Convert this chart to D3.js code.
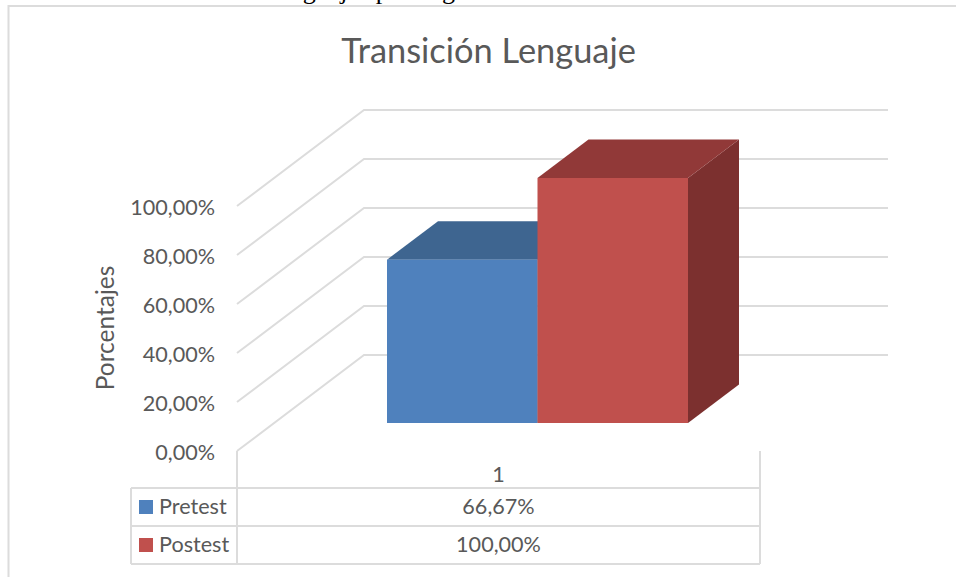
<!DOCTYPE html>
<html><head><meta charset="utf-8">
<script src="https://cdn.jsdelivr.net/npm/d3@7"></script>
<style>html,body{margin:0;padding:0;background:#fff}svg{display:block}text{font-family:Lato,sans-serif}</style>
</head><body><svg id="c" width="956" height="577"></svg>
<script>
const chartTitle = "Transición Lenguaje";
const axisTitle = "Porcentajes";
const categories = ["1"];
const seriesNames = ["Pretest", "Postest"];
const seriesValues = [0.6667, 1];
const seriesLabels = ["66,67%", "100,00%"];
const yTicks = [0, 0.2, 0.4, 0.6, 0.8, 1];
const frontColors = ["#4f81bd", "#c0504d"];
const topColors = ["#3e6590", "#913938"];
const sideColors = ["#34557a", "#7c302f"];

const svg = d3.select("#c");
const grid = "#dcdcdc", txt = "#595959";
const labelSize = 21.6;
const fmt = d3.formatLocale({decimal:",",thousands:".",grouping:[3],currency:["","€"],percent:"%"}).format(".2%");

// clipped fragment of the page text above the chart
svg.append("text").attr("x",271).attr("y",-1.5).attr("font-size",26)
  .style("font-family","'Liberation Serif',serif").attr("fill","#000").text("lenguajes por el grado");

// outer frame
svg.append("path").attr("d","M8.5,577V6H956").attr("fill","none").attr("stroke",grid).attr("stroke-width",2);

svg.append("text").attr("x",488.5).attr("y",63).attr("text-anchor","middle").attr("font-size",34.4).attr("fill",txt).text(chartTitle);

// scales
const y = d3.scaleLinear().domain([0,1]).range([451,206]);
const depthFloor = {dx:127, dy:-96};
const wallRight = 888;
const x = d3.scaleBand().domain(seriesNames).range([387,688]);
const barDepth = {dx:51, dy:-38.5};
const yBar = d3.scaleLinear().domain([0,1]).range([423,178]);

// gridlines on side and back wall
const g = svg.append("g").attr("fill","none").attr("stroke",grid).attr("stroke-width",2);
yTicks.forEach(t=>{
  g.append("path").attr("d",d3.line()([[237,y(t)],[237+depthFloor.dx,y(t)+depthFloor.dy],[wallRight,y(t)+depthFloor.dy]]));
});

// axis
const axis = d3.axisLeft(y).tickValues(yTicks).tickFormat(fmt).tickSize(0).tickPadding(0);
const ag = svg.append("g").attr("transform","translate(215,2)").call(axis);
ag.select(".domain").remove();
ag.selectAll("text").attr("font-size",labelSize).attr("fill",txt).style("font-family","Lato,sans-serif");

svg.append("text").attr("transform","translate(114,328) rotate(-90)").attr("text-anchor","middle").attr("font-size",24.5).attr("fill",txt).text(axisTitle);

// bars (drawn back to front, left to right)
seriesNames.forEach((s,i)=>{
  const x0=x(s), x1=x0+x.bandwidth(), yt=yBar(seriesValues[i]), yb=yBar(0), d=barDepth;
  const line=d3.line();
  const b=svg.append("g");
  b.append("path").attr("d",line([[x1,yt],[x1+d.dx,yt+d.dy],[x1+d.dx,yb+d.dy],[x1,yb]])+"Z").attr("fill",sideColors[i]);
  b.append("path").attr("d",line([[x0,yt],[x0+d.dx,yt+d.dy],[x1+d.dx,yt+d.dy],[x1,yt]])+"Z").attr("fill",topColors[i]);
  b.append("rect").attr("x",x0).attr("y",yt).attr("width",x.bandwidth()).attr("height",yb-yt).attr("fill",frontColors[i]);
});

// data table
const rowY = d3.scalePoint().domain([0,1,2]).range([488,564]);
const colL=131, colM=237, colR=760;
const t = svg.append("g").attr("fill","none").attr("stroke",grid).attr("stroke-width",2);
rowY.domain().forEach(r=>t.append("path").attr("d",d3.line()([[colL,rowY(r)],[colR,rowY(r)]])));
t.append("path").attr("d",d3.line()([[colL,488],[colL,564]]));
t.append("path").attr("d",d3.line()([[colM,451],[colM,564]]));
t.append("path").attr("d",d3.line()([[colR,451],[colR,564]]));

svg.append("text").attr("x",(colM+colR)/2).attr("y",482).attr("text-anchor","middle").attr("font-size",labelSize).attr("fill",txt).text(categories[0]);
seriesNames.forEach((s,i)=>{
  const top=rowY(i), mid=top+19;
  svg.append("rect").attr("x",139).attr("y",mid-7).attr("width",14).attr("height",14).attr("fill",frontColors[i]);
  svg.append("text").attr("x",159).attr("y",mid+7).attr("font-size",labelSize).attr("fill",txt).text(s);
  svg.append("text").attr("x",(colM+colR)/2).attr("y",mid+7).attr("text-anchor","middle").attr("font-size",labelSize).attr("fill",txt).text(seriesLabels[i]);
});
</script></body></html>
